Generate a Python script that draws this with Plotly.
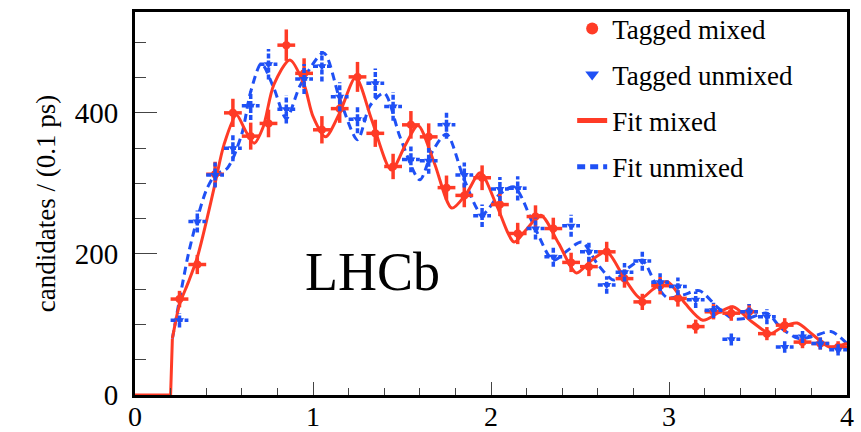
import numpy as np
import plotly.graph_objects as go

# ---- data ----
bin_centers = [0.25, 0.35, 0.45, 0.55, 0.65, 0.75, 0.85, 0.95, 1.05, 1.15,
               1.25, 1.35, 1.45, 1.55, 1.65, 1.75, 1.85, 1.95, 2.05, 2.15,
               2.25, 2.35, 2.45, 2.55, 2.65, 2.75, 2.85, 2.95, 3.05, 3.15,
               3.25, 3.35, 3.45, 3.55, 3.65, 3.75, 3.85, 3.95]
mixed_counts = [136, 185, 313, 400, 367, 385, 496, 456, 376, 406,
                451, 371, 324, 383, 366, 294, 283, 308, 270, 229,
                253, 236, 188, 182, 203, 165, 132, 155, 137, 97,
                118, 116, 118, 87, 99, 75, 73, 68]
unmixed_counts = [106, 246, 312, 350, 410, 469, 405, 448, 466, 423,
                  391, 442, 409, 334, 332, 383, 312, 254, 292, 293,
                  236, 196, 240, 203, 156, 174, 190, 160, 154, 135,
                  120, 79, 118, 111, 68, 83, 73, 64]
half_bin = 0.05

# fit curves read at sample times
fit_start_t = [0.0, 0.2, 0.21]
fit_start_v = [0, 0, 80]
fit_mixed_t = [0.21, 0.25, 0.3, 0.35, 0.4, 0.45, 0.5, 0.57, 0.62, 0.67, 0.72, 0.78,
               0.87, 0.95, 1.0, 1.07, 1.15, 1.24, 1.33, 1.44, 1.52, 1.59, 1.68,
               1.78, 1.86, 1.94, 2.03, 2.13, 2.2, 2.28, 2.38, 2.48, 2.56, 2.65,
               2.75, 2.84, 2.91, 2.99, 3.09, 3.19, 3.28, 3.36, 3.46, 3.57, 3.64,
               3.72, 3.81, 3.9, 4.0]
fit_mixed_v = [80, 128, 160, 195, 245, 300, 355, 397, 375, 357, 380, 440,
               475, 440, 395, 366, 400, 450, 390, 319, 355, 382, 330,
               265, 285, 315, 270, 217, 235, 255, 215, 173, 190, 203,
               165, 137, 150, 161, 130, 106, 117, 125, 105, 87, 97,
               102, 85, 68, 73]
fit_unmixed_t = [0.21, 0.25, 0.3, 0.35, 0.4, 0.45, 0.52, 0.6, 0.65, 0.71, 0.78,
                 0.85, 0.93, 1.06, 1.15, 1.25, 1.32, 1.4, 1.49, 1.6, 1.67, 1.75,
                 1.85, 1.95, 2.05, 2.13, 2.25, 2.35, 2.43, 2.51, 2.6, 2.69, 2.77,
                 2.85, 2.92, 2.99, 3.08, 3.17, 3.27, 3.36, 3.46, 3.55, 3.63, 3.73,
                 3.82, 3.91, 4.0]
fit_unmixed_v = [80, 135, 200, 250, 290, 312, 322, 370, 430, 470, 435,
                 392, 440, 485, 420, 362, 410, 428, 365, 305, 345, 370,
                 305, 256, 285, 295, 235, 191, 205, 217, 185, 163, 180,
                 191, 160, 138, 142, 148, 125, 108, 110, 116, 95, 80,
                 84, 90, 73]

y_title = "candidates / (0.1 ps)"

RED = "#ff3b26"
BLUE = "#1f50f5"
FONT = "Times New Roman"

fig = go.Figure()

# fits
fig.add_trace(go.Scatter(x=fit_start_t, y=fit_start_v, mode="lines",
                         line=dict(color=RED, width=3), showlegend=False,
                         legendgroup="fm", hoverinfo="skip"))
fig.add_trace(go.Scatter(x=fit_unmixed_t, y=fit_unmixed_v, mode="lines",
                         name="Fit unmixed", legendgroup="fu", legendrank=4,
                         line=dict(color=BLUE, width=3, dash="8px,5px",
                                   shape="spline", smoothing=0.8)))
fig.add_trace(go.Scatter(x=fit_mixed_t, y=fit_mixed_v, mode="lines",
                         name="Fit mixed", legendgroup="fm", legendrank=3,
                         line=dict(color=RED, width=3,
                                   shape="spline", smoothing=0.8)))

# red data points with error bars
fig.add_trace(go.Scatter(x=bin_centers, y=mixed_counts, mode="markers",
                         name="Tagged mixed", legendgroup="tm", legendrank=1,
                         marker=dict(symbol="circle", color=RED, size=8),
                         error_x=dict(type="constant", value=half_bin, color=RED,
                                      thickness=3.5, width=0),
                         error_y=dict(type="sqrt", color=RED, thickness=3.5, width=0)))

# blue dotted error crosses built from data
ex, ey = [], []
for t, v in zip(bin_centers, unmixed_counts):
    e = float(np.sqrt(v))
    ex += [t - half_bin, t + half_bin, None, t, t, None]
    ey += [v, v, None, v - e, v + e, None]
fig.add_trace(go.Scatter(x=ex, y=ey, mode="lines", showlegend=False,
                         legendgroup="tu_err", hoverinfo="skip",
                         line=dict(color=BLUE, width=3.5, dash="5px,2px")))
fig.add_trace(go.Scatter(x=bin_centers, y=unmixed_counts, mode="markers",
                         name="Tagged unmixed", legendgroup="tu", legendrank=2,
                         marker=dict(symbol="triangle-down", color=BLUE, size=8)))

fig.add_annotation(x=0.333, y=0.322, xref="paper", yref="paper", text="LHCb",
                   xanchor="center", yanchor="middle",
                   showarrow=False, font=dict(family=FONT, size=54, color="black"))

fig.update_layout(
    width=861, height=432,
    margin=dict(l=135, r=14, t=12, b=37, autoexpand=False),
    paper_bgcolor="white", plot_bgcolor="white",
    font=dict(family=FONT, size=27, color="black"),
    showlegend=True,
    legend=dict(x=0.614, y=1.02, xanchor="left", yanchor="top",
                bgcolor="rgba(0,0,0,0)", tracegroupgap=8,
                font=dict(family=FONT, size=27), itemsizing="constant"),
    xaxis=dict(range=[0, 4], showgrid=False, zeroline=False, automargin=False,
               showline=True, linecolor="black", linewidth=3, mirror=True,
               ticks="inside", ticklen=13, tickwidth=1, tickcolor="#444",
               dtick=1, tick0=0, tickfont=dict(family=FONT, size=28, color="black"),
               ticklabelstandoff=-6,
               minor=dict(dtick=0.2, ticks="inside", ticklen=7, tickwidth=1,
                          tickcolor="#444")),
    yaxis=dict(range=[0, 543], showgrid=False, zeroline=False, automargin=False,
               showline=True, linecolor="black", linewidth=3, mirror=True,
               ticks="inside", ticklen=22, tickwidth=1, tickcolor="#444",
               dtick=200, tick0=0, tickfont=dict(family=FONT, size=29, color="black"),
               ticklabelstandoff=8,
               title=dict(text="\u00a0" * 15 + y_title, standoff=12,
                          font=dict(family=FONT, size=27, color="black")),
               minor=dict(dtick=50, ticks="inside", ticklen=11, tickwidth=1,
                          tickcolor="#444")),
)

fig.write_html("out.html")
